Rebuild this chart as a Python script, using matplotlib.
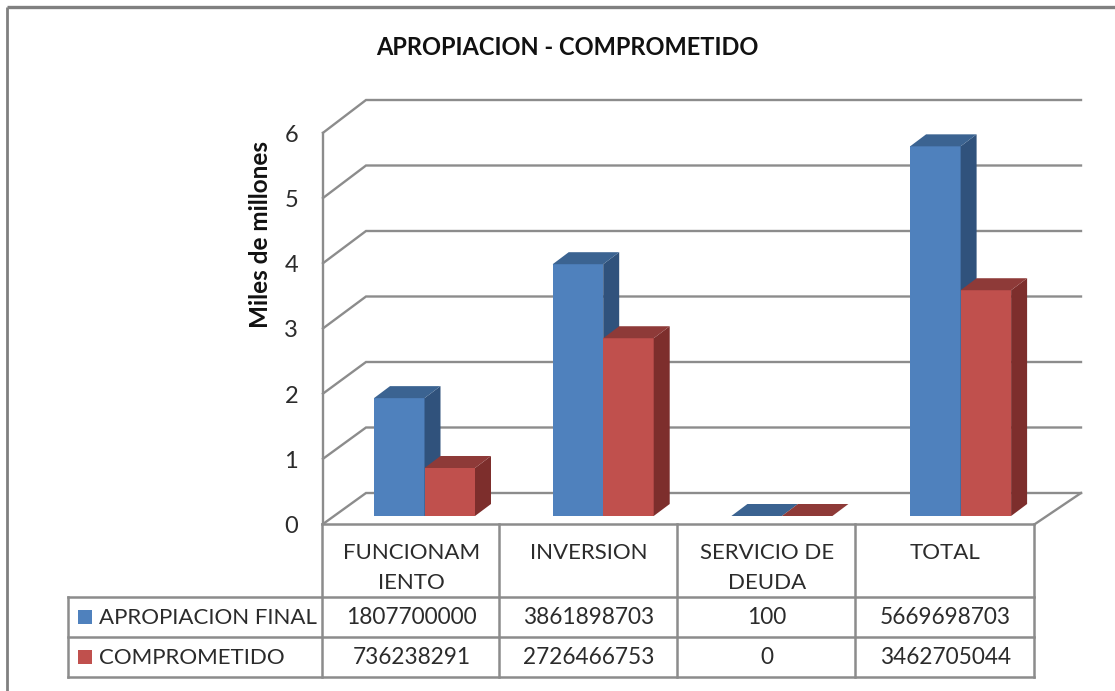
import matplotlib
matplotlib.use("Agg")
import matplotlib.pyplot as plt
from matplotlib.patches import Polygon, Rectangle

plt.rcParams['font.family'] = ['Lato', 'DejaVu Sans']

title = "APROPIACION - COMPROMETIDO"
y_label = "Miles de millones"
categories = ["FUNCIONAM\nIENTO", "INVERSION", "SERVICIO DE\nDEUDA", "TOTAL"]
series_names = ["APROPIACION FINAL", "COMPROMETIDO"]
apropiacion = [1807700000, 3861898703, 100, 5669698703]
comprometido = [736238291, 2726466753, 0, 3462705044]
y_ticks = [0, 1, 2, 3, 4, 5, 6]

GRID = "#8c8c8c"
TXT = "#2b2b2b"
front = ["#4f81bd", "#c0504d"]
top = ["#3b6391", "#8e3a38"]
side = ["#30527c", "#7d2e2c"]

fig = plt.figure(figsize=(11.15, 6.91), dpi=100)
ax = fig.add_axes([0, 0, 1, 1])
ax.set_xlim(0, 1115)
ax.set_ylim(691, 0)
ax.axis("off")

# scales (pixel layout)
UNIT = 65.2
def y_front(v): return 524 - v * UNIT
def y_back(v): return 493 - v * 65.5
def y_bar(v): return 516 - v * UNIT
WALL_L, WALL_B, WALL_R = 323, 366, 1081
PLOT_R = 1035
DX, DY = 16, 12
BAR_W = 50.5
GROUP0, GROUP_STEP = 374, 178.7

# outer frame
ax.plot([7, 7], [691, 7], color="#808080", lw=2, solid_capstyle="butt")
ax.plot([7, 1115], [7, 7], color="#808080", lw=2.4, solid_capstyle="butt")

# walls and gridlines
for t in y_ticks:
    ax.plot([WALL_L, WALL_B, WALL_R], [y_front(t), y_back(t), y_back(t)],
            color=GRID, lw=1.7, zorder=1, solid_joinstyle="miter")
    ax.text(298, y_front(t) + 2.5, str(t), ha="right", va="center", fontsize=17, color=TXT)
ax.plot([WALL_L, WALL_L], [y_front(0), y_front(y_ticks[-1])], color=GRID, lw=1.7, zorder=1)
ax.plot([PLOT_R, WALL_R], [y_front(0), y_back(0)], color=GRID, lw=1.7, zorder=1)

# bars
for i, (a, c) in enumerate(zip(apropiacion, comprometido)):
    for s, val in enumerate((a, c)):
        v = val / 1e9
        x0 = GROUP0 + i * GROUP_STEP + s * BAR_W
        x1 = x0 + BAR_W
        yt, yb = y_bar(v), y_bar(0)
        z = 3 + s
        if yb - yt > 0.5:
            ax.add_patch(Rectangle((x0, yt), BAR_W, yb - yt, fc=front[s], ec="none", zorder=z))
            ax.add_patch(Polygon([(x1, yt), (x1 + DX, yt - DY), (x1 + DX, yb - DY), (x1, yb)],
                                 fc=side[s], ec="none", zorder=z))
        ax.add_patch(Polygon([(x0, yt), (x0 + DX, yt - DY), (x1 + DX, yt - DY), (x1, yt)],
                             fc=top[s], ec="none", zorder=z))

# table
col_x = [322, 499, 677, 855, 1034]
TABLE_L = 68
ROW_TOP, ROW_HEAD, ROW_1, ROW_2 = 524, 597, 637, 677
LW = 1.8
ax.plot([col_x[0], col_x[-1]], [ROW_TOP, ROW_TOP], color=GRID, lw=LW, zorder=2)
for x in col_x:
    ax.plot([x, x], [ROW_TOP, ROW_2], color=GRID, lw=LW, zorder=2)
for y in (ROW_HEAD, ROW_1, ROW_2):
    ax.plot([TABLE_L, col_x[-1]], [y, y], color=GRID, lw=LW, zorder=2)
ax.plot([TABLE_L, TABLE_L], [ROW_HEAD, ROW_2], color=GRID, lw=LW, zorder=2)

for i, cat in enumerate(categories):
    cx = (col_x[i] + col_x[i + 1]) / 2
    ax.text(cx + 1, 543, cat, ha="center", va="top", fontsize=16, color=TXT, linespacing=1.6)
    ax.text(cx + 1, (ROW_HEAD + ROW_1) / 2 + 1, str(apropiacion[i]), ha="center", va="center", fontsize=16.3, color=TXT)
    ax.text(cx + 1, (ROW_1 + ROW_2) / 2 + 1, str(comprometido[i]), ha="center", va="center", fontsize=16.3, color=TXT)

for r, (name, ymid) in enumerate(zip(series_names, [(ROW_HEAD + ROW_1) / 2, (ROW_1 + ROW_2) / 2])):
    ax.add_patch(Rectangle((78, ymid - 7), 14, 14, fc=front[r], ec="none", zorder=3))
    ax.text(99, ymid + 1, name, ha="left", va="center", fontsize=16, color=TXT)

# titles
ax.text(567, 47, title, ha="center", va="center", fontsize=17, fontweight="bold", color="#111111")
ax.text(261, 234, y_label, rotation=90, ha="center", va="center", fontsize=17.5, fontweight="bold", color="#111111")

fig.savefig("out.png", dpi=100, facecolor="white")
